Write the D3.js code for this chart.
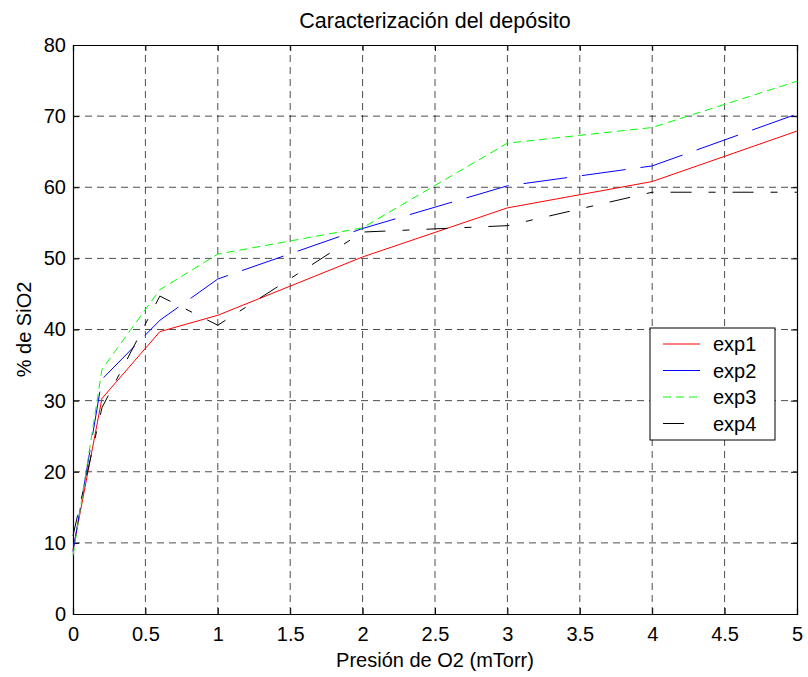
<!DOCTYPE html>
<html>
<head>
<meta charset="utf-8">
<script src="https://cdn.jsdelivr.net/npm/d3@7"></script>
<style>
  body { margin: 0; background: #fff; }
  svg text { font-family: "Liberation Sans", Arial, Helvetica, sans-serif; fill: #000; }
</style>
</head>
<body>
<svg id="chart" width="808" height="677"></svg>
<script>
// Pressure values (mTorr)
const pressure = [0, 0.2, 0.6, 1, 2, 3, 4, 5];

// SiO2 content (%) for each experiment
const exp1 = [9.0, 30.3, 39.7, 42.0, 50.2, 57.1, 60.8, 67.9];
const exp2 = [8.8, 33.0, 41.3, 47.1, 54.2, 60.2, 63.0, 70.3];
const exp3 = [8.2, 34.4, 45.6, 50.6, 54.3, 66.2, 68.4, 74.9];
const exp4 = [11.0, 29.0, 44.7, 40.6, 53.7, 54.6, 59.3, 59.3];

const seriesNames = ["exp1", "exp2", "exp3", "exp4"];
const seriesValues = [exp1, exp2, exp3, exp4];

const xTicks = [0, 0.5, 1, 1.5, 2, 2.5, 3, 3.5, 4, 4.5, 5];
const yTicks = [0, 10, 20, 30, 40, 50, 60, 70, 80];

const titleText = "Caracterización del depósito";
const xLabelText = "Presión de O2 (mTorr)";
const yLabelText = "% de SiO2";

// Line styles per series: solid, long dash, short dash, dash-dot
const styles = [
  { color: "#ff0000", dash: null },
  { color: "#0000ff", dash: "44,15" },
  { color: "#00ff00", dash: "8,5" },
  { color: "#000000", dash: "21,17,7,17" }
];

const svg = d3.select("#chart");
const mLeft = 73, mRight = 797, mTop = 45, mBottom = 614;
const fontSize = "20px";

const x = d3.scaleLinear().domain([0, 5]).range([mLeft, mRight]);
const y = d3.scaleLinear().domain([0, 80]).range([mBottom, mTop]);

// Plot background
svg.append("rect").attr("x", mLeft).attr("y", mTop)
  .attr("width", mRight - mLeft).attr("height", mBottom - mTop).attr("fill", "#fff");

// Grid
const grid = svg.append("g").attr("stroke", "#000").attr("stroke-opacity", 0.7)
  .attr("stroke-width", 1).attr("stroke-dasharray", "7,5");
xTicks.slice(1, -1).forEach(t => {
  grid.append("line").attr("x1", x(t)).attr("x2", x(t)).attr("y1", mBottom).attr("y2", mTop);
});
yTicks.slice(1, -1).forEach(t => {
  grid.append("line").attr("x1", mLeft).attr("x2", mRight).attr("y1", y(t)).attr("y2", y(t));
});

// Axes (ticks pointing inward on all sides)
const tickLen = 6;
const axB = svg.append("g").attr("transform", `translate(0,${mBottom})`)
  .call(d3.axisBottom(x).tickValues(xTicks).tickSize(-tickLen).tickPadding(13).tickFormat(d3.format("")));
const axT = svg.append("g").attr("transform", `translate(0,${mTop})`)
  .call(d3.axisTop(x).tickValues(xTicks).tickSize(-tickLen).tickFormat(""));
const axL = svg.append("g").attr("transform", `translate(${mLeft},0)`)
  .call(d3.axisLeft(y).tickValues(yTicks).tickSize(-tickLen).tickPadding(7));
const axR = svg.append("g").attr("transform", `translate(${mRight},0)`)
  .call(d3.axisRight(y).tickValues(yTicks).tickSize(-tickLen).tickFormat(""));
[axB, axT, axL, axR].forEach(a => {
  a.select(".domain").attr("stroke", "#000").attr("stroke-width", 1.2);
  a.selectAll(".tick line").attr("stroke", "#000");
  a.selectAll("text").style("font-size", fontSize).attr("fill", "#000");
});

// Series lines
const line = d3.line().x((d, i) => x(pressure[i])).y(d => y(d));
seriesValues.forEach((vals, k) => {
  svg.append("path").datum(vals)
    .attr("fill", "none")
    .attr("stroke", styles[k].color)
    .attr("stroke-width", 1)
    .attr("stroke-dasharray", styles[k].dash)
    .attr("d", line);
});

// Legend
const lg = svg.append("g").attr("transform", "translate(650,328)");
lg.append("rect").attr("width", 125).attr("height", 112)
  .attr("fill", "#fff").attr("stroke", "#000").attr("stroke-width", 1);
seriesNames.forEach((name, k) => {
  const yy = 16 + k * 26.5;
  lg.append("line").attr("x1", 13).attr("x2", 50).attr("y1", yy).attr("y2", yy)
    .attr("stroke", styles[k].color).attr("stroke-width", 1)
    .attr("stroke-dasharray", styles[k].dash);
  lg.append("text").attr("x", 63).attr("y", yy + 7).style("font-size", fontSize).text(name);
});

// Titles
svg.append("text").attr("x", (mLeft + mRight) / 2).attr("y", 28)
  .attr("text-anchor", "middle").style("font-size", "21.5px").text(titleText);
svg.append("text").attr("x", (mLeft + mRight) / 2).attr("y", 667)
  .attr("text-anchor", "middle").style("font-size", fontSize).text(xLabelText);
svg.append("text").attr("transform", `translate(31,${(mTop + mBottom) / 2}) rotate(-90)`)
  .attr("text-anchor", "middle").style("font-size", fontSize).text(yLabelText);
</script>
</body>
</html>
